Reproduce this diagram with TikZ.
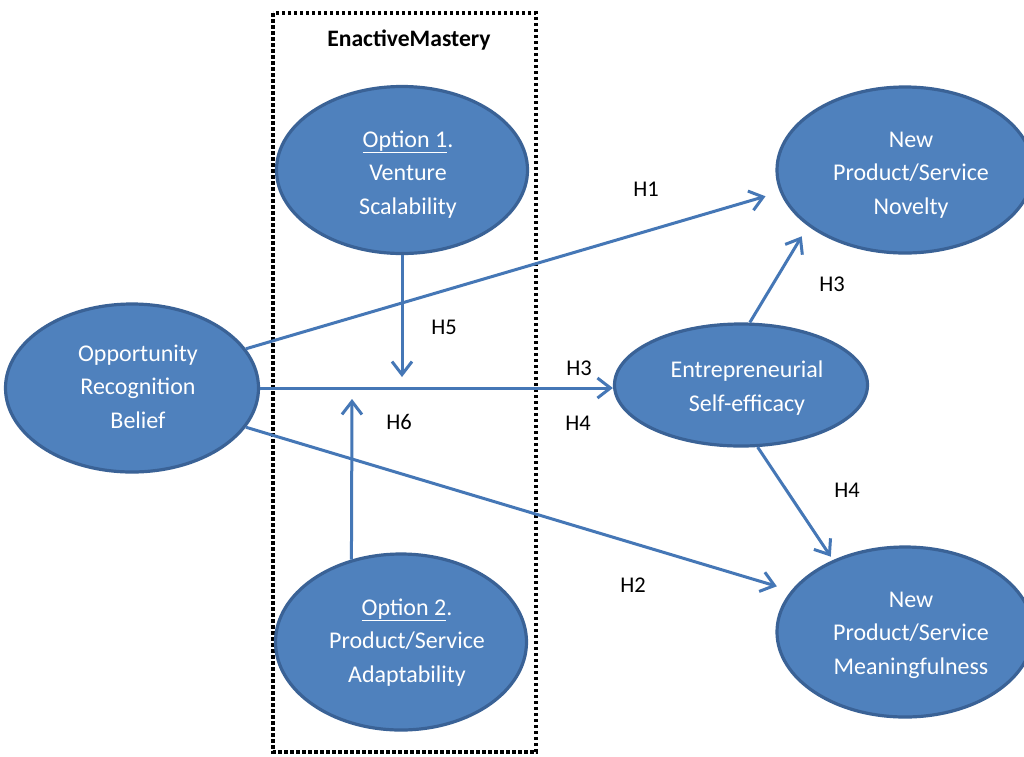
\documentclass[tikz,border=0pt]{standalone}
\usepackage{fontspec}
\setmainfont{Carlito}
\usetikzlibrary{shapes.geometric,arrows.meta}
\definecolor{efill}{HTML}{4F81BD}
\definecolor{eline}{HTML}{3A6296}
\definecolor{arr}{HTML}{4577B6}
\newcommand{\ettext}[2]{\hspace*{12pt}\raisebox{#1}[\height][\depth]{\begin{tabular}{@{}c@{}}#2\end{tabular}}}
\begin{document}
\begin{tikzpicture}[x=1pt,y=-1pt,
  ell/.style={ellipse, draw=eline, fill=efill, line width=3.2pt, text=white, inner sep=0pt, font=\fontsize{24}{33.5}\selectfont},
  lab/.style={font=\fontsize{22.5}{26}\selectfont, inner sep=0pt, text=black},
  conn/.style={draw=arr, line width=3pt, -{Straight Barb[length=13pt,width=20pt]}},
  dotbox/.style={draw=black, line width=3.5pt, dash pattern=on 3.5pt off 2.5pt}]
\clip (0,0) rectangle (1024,756);
\fill[white] (0,0) rectangle (1024,756);
% dotted box
\draw[dotbox] (273,13) rectangle (536,752);
\node[font=\fontsize{23.6}{27}\selectfont\bfseries, inner sep=0pt] (title) at (409,40) {EnactiveMastery};
% nodes
\node[ell, minimum width=253pt, minimum height=168pt] (orb) at (132,388) {\ettext{0pt}{Opportunity\\Recognition\\Belief}};
\node[ell, minimum width=251pt, minimum height=167pt] (op1) at (402,170) {\ettext{-4pt}{\underline{Option 1}.\\Venture\\Scalability}};
\node[ell, minimum width=251pt, minimum height=176pt] (op2) at (401,642) {\ettext{0pt}{\underline{Option 2}.\\Product/Service\\Adaptability}};
\node[ell, minimum width=256pt, minimum height=166pt] (nov) at (905,170) {\ettext{-4pt}{New\\Product/Service\\Novelty}};
\node[ell, minimum width=253pt, minimum height=122pt] (ent) at (741,385) {\ettext{-3pt}{Entrepreneurial\\Self-efficacy}};
\node[ell, minimum width=256pt, minimum height=170pt] (mea) at (905,632) {\ettext{-2pt}{New\\Product/Service\\Meaningfulness}};
% free ends
\coordinate (h5) at (402,377);
\coordinate (h6) at (352,399);
% connectors
\draw[conn, shorten >=15pt] (orb.19) -- (nov.190);
\draw[conn, shorten >=15pt] (orb.-19) -- (mea.160);
\draw[conn] (orb.east) -- (orb.east -| ent.west);
\draw[conn] (op1.south) -- (h5);
\draw[conn] (op2.121) -- (h6);
\draw[conn, shorten >=12pt] (ent.82) -- (nov.210);
\draw[conn, shorten >=4pt] (ent.-75) -- (mea.135);
% labels
\node[lab] (l1) at (646,189) {H1};
\node[lab] (l5) at (444,327) {H5};
\node[lab] (l3a) at (579,368) {H3};
\node[lab] (l4a) at (578,423) {H4};
\node[lab] (l6) at (399,422) {H6};
\node[lab] (l3b) at (832,284) {H3};
\node[lab] (l4b) at (847,490) {H4};
\node[lab] (l2) at (633,585) {H2};
\end{tikzpicture}
\end{document}
